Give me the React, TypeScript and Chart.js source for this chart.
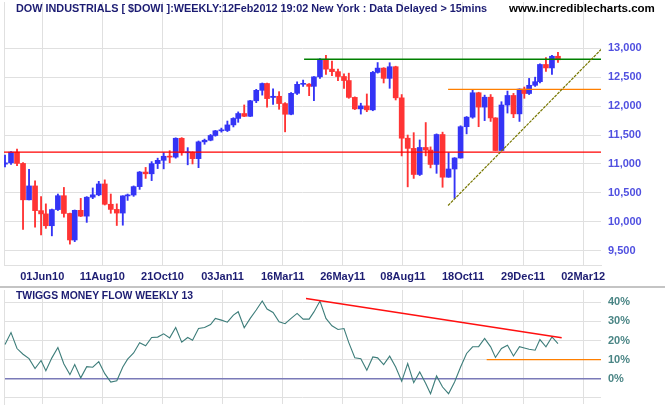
import { useEffect, useRef } from 'react';
import { Chart, registerables } from 'chart.js';

Chart.register(...registerables);

// ---- categories: weekly bars, first week ending 16 Apr 2010 ----
const FIRST_WEEK_END = '2010-04-16';
const HOLIDAYS = [
  '2010-05-31', '2010-07-05', '2010-09-06', '2010-11-25', '2010-12-24',
  '2011-01-17', '2011-02-21', '2011-04-22', '2011-05-30', '2011-07-04',
  '2011-09-05', '2011-11-24', '2011-12-26', '2012-01-02', '2012-01-16',
];

// ---- weekly OHLC ----
const opens = [
  10997, 11019, 11204, 11009, 10380, 10620, 10193, 10137, 9932, 10211,
  10451, 10144, 9686, 10198, 10098, 10425, 10466, 10654, 10303, 10214,
  10151, 10448, 10463, 10608, 10860, 10830, 11006, 11063, 11133, 11118,
  11444, 11193, 11204, 11092, 11382, 11410, 11492, 11573, 11578, 11675,
  11787, 11872, 11824, 12092, 12273, 12391, 12150, 12170, 12044, 11859,
  12221, 12377, 12380, 12342, 12506, 12811, 12639, 12596, 12512, 12442,
  12151, 11952, 12004, 11935, 12583, 12657, 12480, 12681, 12143, 11445,
  11269, 10818, 11285, 11240, 10992, 11509, 10771, 10913, 11103, 11644,
  11809, 12231, 11983, 12154, 11796, 11232, 12019, 12184, 11866, 12294,
  12218, 12360, 12422, 12720, 12660, 12862,
];
const highs = [
  11155, 11215, 11258, 11025, 10905, 10710, 10435, 10310, 10220, 10480,
  10594, 10150, 10204, 10405, 10435, 10585, 10700, 10725, 10480, 10310,
  10450, 10480, 10620, 10870, 10940, 11040, 11100, 11195, 11230, 11452,
  11455, 11282, 11210, 11397, 11430, 11510, 11580, 11620, 11742, 11800,
  11900, 12020, 12100, 12290, 12400, 12400, 12300, 12250, 12060, 12235,
  12420, 12450, 12390, 12510, 12820, 12876, 12780, 12640, 12560, 12570,
  12160, 12050, 12210, 12600, 12753, 12665, 12750, 12690, 12200, 11500,
  11541, 11415, 11716, 11295, 11520, 11550, 11196, 11110, 11660, 11820,
  12284, 12240, 12190, 12200, 11800, 12076, 12260, 12220, 12300, 12330,
  12479, 12500, 12730, 12841, 12880, 12930,
];
const lows = [
  10950, 10990, 10970, 9870, 10380, 9905, 9775, 9886, 9757, 10195,
  10080, 9614, 9657, 10090, 9990, 10400, 10450, 10290, 10147, 9936,
  9941, 10370, 10440, 10560, 10750, 10712, 10920, 10915, 11020, 11100,
  11150, 10985, 11000, 10936, 11340, 11400, 11480, 11550, 11560, 11640,
  11720, 11818, 11820, 12060, 12190, 11983, 12030, 11945, 11555, 11850,
  12200, 12340, 12180, 12093, 12480, 12550, 12527, 12440, 12308, 12135,
  11940, 11862, 11904, 11920, 12570, 12400, 12308, 12106, 11139, 10604,
  10750, 10800, 11140, 10932, 10838, 10597, 10770, 10404, 11100, 11520,
  11790, 11644, 11749, 11735, 11231, 11232, 11880, 11800, 11735, 12135,
  12200, 12340, 12400, 12600, 12550, 12755,
];
const closes = [
  11019, 11204, 11009, 10380, 10620, 10193, 10137, 9932, 10211, 10451,
  10144, 9686, 10198, 10098, 10425, 10466, 10654, 10303, 10214, 10151,
  10448, 10463, 10608, 10860, 10830, 11006, 11063, 11133, 11118, 11444,
  11193, 11204, 11092, 11382, 11410, 11492, 11573, 11578, 11675, 11787,
  11872, 11824, 12092, 12273, 12391, 12130, 12170, 12044, 11859, 12221,
  12377, 12380, 12342, 12506, 12811, 12639, 12596, 12512, 12442, 12151,
  11952, 12004, 11935, 12583, 12657, 12480, 12681, 12143, 11445, 11269,
  10818, 11285, 11240, 10992, 11509, 10771, 10913, 11103, 11644, 11809,
  12231, 11983, 12154, 11796, 11232, 12019, 12184, 11866, 12294, 12218,
  12360, 12422, 12720, 12660, 12862, 12801,
];

// ---- Twiggs Money Flow (13 week), percent ----
const tmf = [
  17.9, 24.2, 15.8, 12.8, 10.5, 5.3, 9.5, 4.2, 10.9, 16.3,
  7.7, 2.1, 7.4, 0.4, 6.3, 6.0, 8.9, 2.6, -1.8, -1.1,
  6.1, 10.2, 13.5, 18.8, 17.2, 21.6, 21.8, 23.5, 21.4, 26.8,
  19.1, 21.6, 20.2, 26.3, 26.8, 28.4, 31.6, 30.7, 29.6, 33.3,
  35.1, 26.7, 31.6, 36.0, 40.7, 36.5, 34.7, 29.8, 28.8, 31.6,
  34.2, 31.2, 31.2, 35.0, 40.7, 31.6, 27.7, 25.8, 26.3, 18.9,
  11.0, 10.5, 4.4, 11.4, 10.9, 7.4, 11.8, 6.1, -1.4, 7.9,
  -2.1, 3.5, -2.5, -7.9, 1.4, -4.4, -7.9, -1.8, 6.1, 13.2,
  16.7, 16.8, 21.1, 16.7, 11.1, 15.8, 17.5, 11.9, 16.8, 16.1,
  15.4, 14.9, 20.5, 16.7, 21.9, 18.4,
];

// ---- axes (x in trading days since first bar) ----
const xTickDays = [31, 81, 131, 181, 231, 281, 331, 381, 431, 481];
const xTickLabels = ['01Jun10', '11Aug10', '21Oct10', '03Jan11', '16Mar11', '26May11', '08Aug11', '18Oct11', '29Dec11', '02Mar12'];
const priceTicks = [9500, 10000, 10500, 11000, 11500, 12000, 12500, 13000];
const tmfTicks = [-10, 0, 10, 20, 30, 40];
const tmfLabelled = [0, 10, 20, 30, 40];
const X_MIN = -0.83;
const X_MAX = 495.8;
const PRICE_MIN = 9253;
const PRICE_MAX = 13800;
const TMF_MIN = -13.3;
const TMF_MAX = 46.5;

// ---- drawn lines (trading day, value) ----
const supportLine = [[X_MIN, 11205], [X_MAX, 11205]];
const resistanceLine = [[248.8, 12810], [X_MAX, 12810]];
const breakoutLine = [[368.6, 12290], [X_MAX, 12290]];
const trendLine = [[368.6, 10281], [X_MAX, 12978]];
const tmfTrendLine = [[250.4, 42.1], [463.1, 21.4]];
const tmfLevelLine = [[400.7, 10], [X_MAX, 10]];

const DAY = 86400000;
const startMs = Date.parse(FIRST_WEEK_END);
const holidayMs = HOLIDAYS.map((d) => Date.parse(d));
const weekX = closes.map((_, k) => {
  const t = startMs + k * 7 * DAY;
  return 5 * k - holidayMs.filter((h) => h <= t).length;
});

const BLUE = '#3434f6';
const RED = '#ff3434';
const GRID = '#e0e0e0';
const FONT = '"Liberation Sans", Arial, sans-serif';

const pts = (arr: number[][]) => arr.map(([x, y]) => ({ x, y }));
const lineDs = (arr: number[][], color: string, width = 1, dash: number[] = [], yAxisID = 'y') => ({
  type: 'line' as const,
  data: pts(arr),
  borderColor: color,
  borderWidth: width,
  borderDash: dash,
  pointRadius: 0,
  tension: 0,
  xAxisID: 'x',
  yAxisID,
});

const noPad = (s: any) => {
  s.paddingTop = 0;
  s.paddingBottom = 0;
  s.paddingLeft = 0;
  s.paddingRight = 0;
};

export default function App() {
  const topRef = useRef<HTMLCanvasElement>(null);
  const botRef = useRef<HTMLCanvasElement>(null);

  useEffect(() => {
    document.body.style.margin = '0';
    const colors = closes.map((c, k) => (c >= opens[k] ? BLUE : RED));

    const top = new Chart(topRef.current as HTMLCanvasElement, {
      type: 'bar',
      data: {
        datasets: [
          lineDs(trendLine, '#777700', 1.2, [3, 1]),
          lineDs(supportLine, '#ff0000', 1.3),
          lineDs(resistanceLine, '#008000', 1.3),
          lineDs(breakoutLine, '#ff7f00', 1.4),
          {
            type: 'bar',
            data: weekX.map((x, k) => ({ x, y: [opens[k], closes[k]] })),
            backgroundColor: colors,
            barThickness: 5,
            minBarLength: 1,
            grouped: false,
            xAxisID: 'x',
            yAxisID: 'y',
          },
          {
            type: 'bar',
            data: weekX.map((x, k) => ({ x, y: [lows[k], highs[k]] })),
            backgroundColor: colors,
            barThickness: 1.2,
            grouped: false,
            xAxisID: 'x',
            yAxisID: 'y',
          },
        ] as any,
      },
      options: {
        animation: false,
        responsive: false,
        devicePixelRatio: 1,
        layout: { padding: { left: 4, top: 2, right: 0, bottom: 0 } },
        plugins: { legend: { display: false }, tooltip: { enabled: false } },
        scales: {
          x: {
            type: 'linear',
            min: X_MIN,
            max: X_MAX,
            offset: false,
            afterBuildTicks: (s: any) => { s.ticks = xTickDays.map((v) => ({ value: v })); },
            afterFit: (s: any) => { s.height = 23; noPad(s); },
            ticks: {
              autoSkip: false,
              maxRotation: 0,
              padding: 5,
              color: '#1c1c72',
              font: { family: FONT, size: 11, weight: 'bold' },
              callback: (v: any) => xTickLabels[xTickDays.indexOf(Number(v))] ?? '',
            },
            grid: { color: GRID, drawTicks: false, offset: false },
            border: { display: true, color: GRID },
          },
          y: {
            type: 'linear',
            position: 'right',
            min: PRICE_MIN,
            max: PRICE_MAX,
            afterBuildTicks: (s: any) => { s.ticks = priceTicks.map((v) => ({ value: v })); },
            afterFit: (s: any) => { s.width = 64; noPad(s); },
            ticks: {
              padding: 7,
              color: '#5050e0',
              font: { family: FONT, size: 11, weight: 'bold' },
              callback: (v: any) => Number(v).toLocaleString('en-US'),
            },
            grid: { color: GRID, drawTicks: false },
            border: { display: false },
          },
          yl: {
            type: 'linear',
            position: 'left',
            min: 0,
            max: 1,
            afterFit: (s: any) => { s.width = 0; noPad(s); },
            ticks: { display: false },
            grid: { display: false, drawTicks: false },
            border: { display: true, color: GRID },
          },
        },
      } as any,
    });

    const bot = new Chart(botRef.current as HTMLCanvasElement, {
      type: 'line',
      data: {
        datasets: [
          lineDs(tmfTrendLine, '#ff1010', 1.5),
          lineDs(tmfLevelLine, '#ff7f00', 1.4),
          {
            type: 'line',
            data: weekX.map((x, k) => ({ x, y: tmf[k] })),
            borderColor: '#3d7d7a',
            borderWidth: 1.1,
            pointRadius: 0,
            tension: 0,
            xAxisID: 'x',
            yAxisID: 'y',
          },
        ] as any,
      },
      options: {
        animation: false,
        responsive: false,
        devicePixelRatio: 1,
        layout: { padding: { left: 4, top: 2, right: 0, bottom: 1 } },
        plugins: { legend: { display: false }, tooltip: { enabled: false } },
        scales: {
          x: {
            type: 'linear',
            min: X_MIN,
            max: X_MAX,
            offset: false,
            afterBuildTicks: (s: any) => { s.ticks = xTickDays.map((v) => ({ value: v })); },
            afterFit: (s: any) => { s.height = 0; noPad(s); },
            ticks: { display: false },
            grid: { color: GRID, drawTicks: false },
            border: { display: false },
          },
          y: {
            type: 'linear',
            position: 'right',
            min: TMF_MIN,
            max: TMF_MAX,
            afterBuildTicks: (s: any) => { s.ticks = tmfTicks.map((v) => ({ value: v })); },
            afterFit: (s: any) => { s.width = 64; noPad(s); },
            ticks: {
              padding: 7,
              color: '#4a8585',
              font: { family: FONT, size: 11, weight: 'bold' },
              callback: (v: any) => (tmfLabelled.includes(Number(v)) ? `${v}%` : ''),
            },
            grid: {
              drawTicks: false,
              color: (c: any) => (c.tick && c.tick.value === 0 ? '#7a7ab8' : GRID),
              lineWidth: (c: any) => (c.tick && c.tick.value === 0 ? 1.5 : 1),
            },
            border: { display: false },
          },
          yl: {
            type: 'linear',
            position: 'left',
            min: 0,
            max: 1,
            afterFit: (s: any) => { s.width = 0; noPad(s); },
            ticks: { display: false },
            grid: { display: false, drawTicks: false },
            border: { display: true, color: GRID },
          },
        },
      } as any,
    });

    return () => {
      top.destroy();
      bot.destroy();
    };
  }, []);

  const textBase = {
    position: 'absolute' as const,
    whiteSpace: 'nowrap' as const,
    fontFamily: FONT,
    fontWeight: 'bold' as const,
    lineHeight: '12px',
  };

  return (
    <div style={{ position: 'relative', width: 665, height: 405, background: '#ffffff', overflow: 'hidden' }}>
      <canvas ref={topRef} width={665} height={288} style={{ position: 'absolute', left: 0, top: 0 }} />
      <canvas ref={botRef} width={665} height={117} style={{ position: 'absolute', left: 0, top: 288 }} />
      <div style={{ position: 'absolute', left: 0, top: 286, width: 665, height: 2, background: '#c4c4c4' }} />
      <div style={{ ...textBase, left: 16, top: 2, fontSize: 10.85, color: '#1c1c72' }}>
        DOW INDUSTRIALS [ $DOWI ]:WEEKLY:12Feb2012 19:02 New York : Data Delayed &gt; 15mins
      </div>
      <div style={{ ...textBase, left: 509, top: 2, fontSize: 11.55, color: '#000000' }}>
        www.incrediblecharts.com
      </div>
      <div style={{ ...textBase, left: 16, top: 290, fontSize: 10.4, color: '#1c1c72' }}>
        TWIGGS MONEY FLOW WEEKLY 13
      </div>
    </div>
  );
}
